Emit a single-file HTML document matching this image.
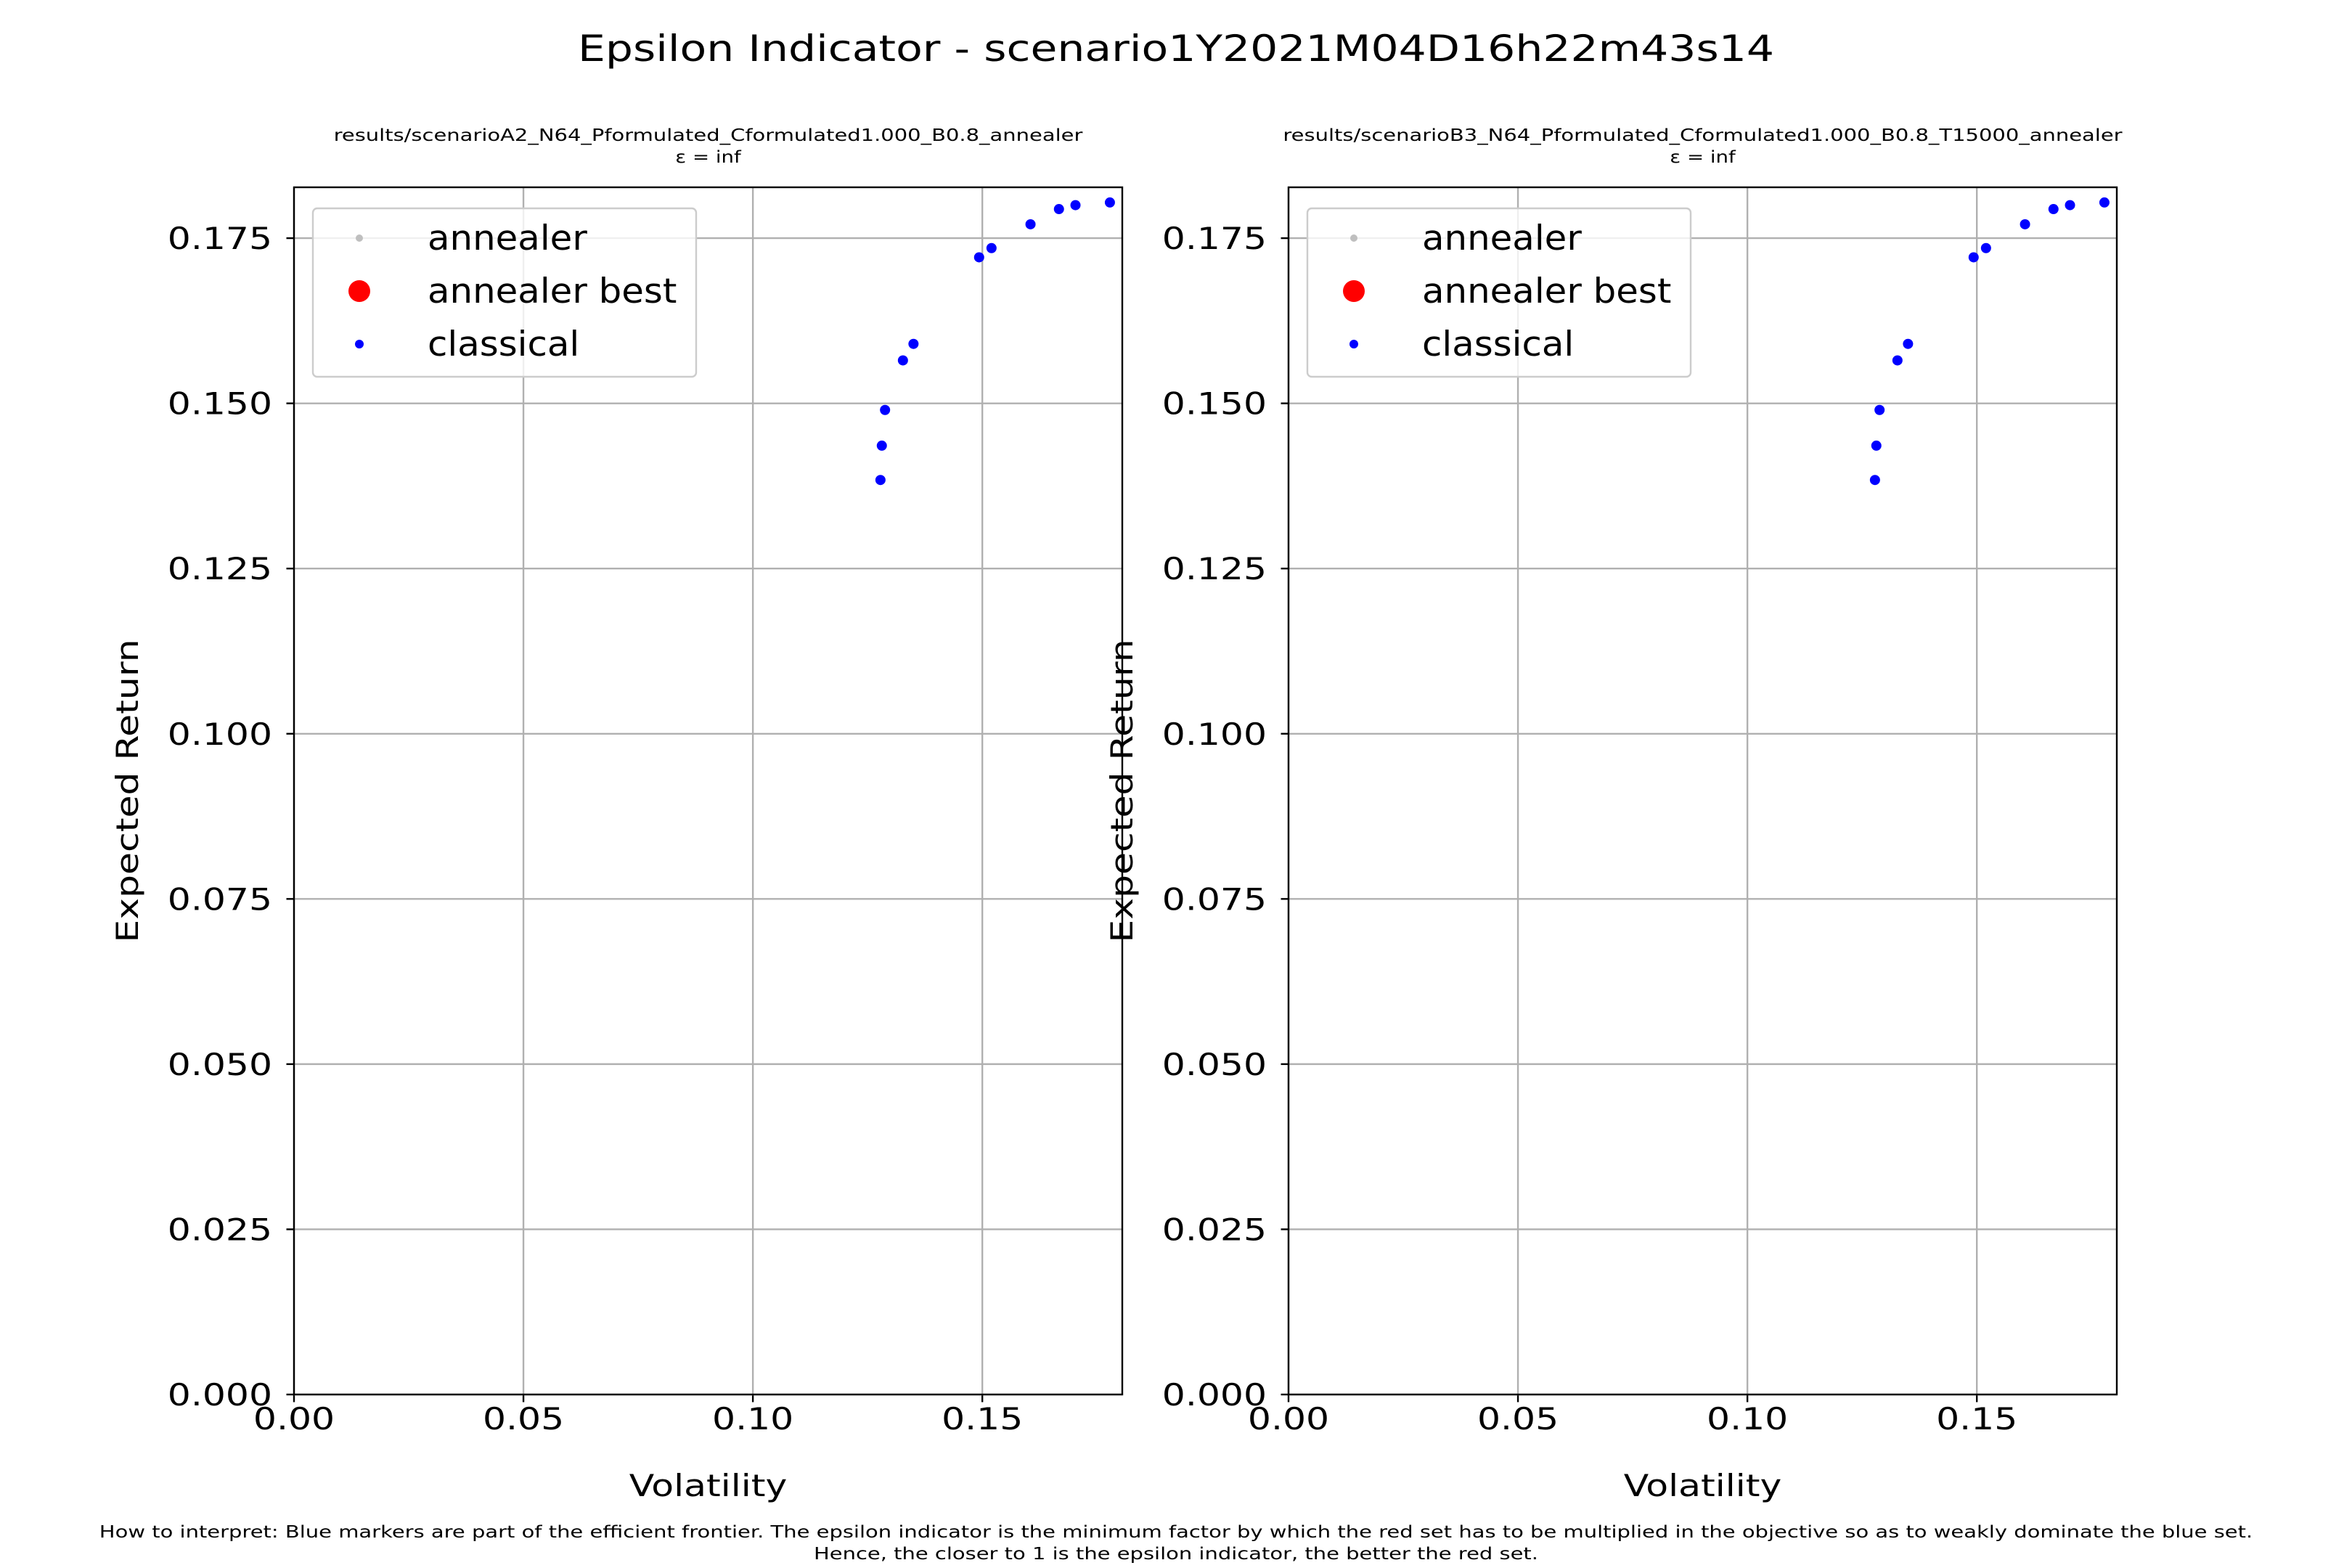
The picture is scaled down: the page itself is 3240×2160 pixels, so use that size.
<!DOCTYPE html>
<html><head><meta charset="utf-8"><style>
html,body{margin:0;padding:0;background:#fff}
svg{display:block;font-family:"DejaVu Sans","Liberation Sans",sans-serif}
</style></head><body>
<svg id="fig" width="3240" height="2160" viewBox="0 0 3240 2160" xmlns="http://www.w3.org/2000/svg">
<rect width="3240" height="2160" fill="#fff"/>
<text font-size="50" text-anchor="middle" transform="translate(1620,84) scale(1.2,1)">Epsilon Indicator - scenario1Y2021M04D16h22m43s14</text>
<text font-size="23" text-anchor="middle" transform="translate(1620,2118) scale(1.26,1)">How to interpret: Blue markers are part of the efficient frontier. The epsilon indicator is the minimum factor by which the red set has to be multiplied in the objective so as to weakly dominate the blue set.</text>
<text font-size="23" text-anchor="middle" transform="translate(1620,2148) scale(1.26,1)">Hence, the closer to 1 is the epsilon indicator, the better the red set.</text>
</svg>
<script>
const xTicks=[0,0.05,0.10,0.15];
const xTickLabels=["0.00","0.05","0.10","0.15"];
const yTicks=[0,0.025,0.05,0.075,0.1,0.125,0.15,0.175];
const yTickLabels=["0.000","0.025","0.050","0.075","0.100","0.125","0.150","0.175"];
const leftVol=[0.1278,0.1281,0.1288,0.1327,0.1350,0.1493,0.1520,0.1605,0.1667,0.1703,0.1778];
const leftRet=[0.1384,0.1436,0.1490,0.1565,0.1590,0.1721,0.1735,0.1771,0.1794,0.1800,0.1804];
const rightVol=[0.1278,0.1281,0.1288,0.1327,0.1350,0.1493,0.1520,0.1605,0.1667,0.1703,0.1778];
const rightRet=[0.1384,0.1436,0.1490,0.1565,0.1590,0.1721,0.1735,0.1771,0.1794,0.1800,0.1804];
const titles=["results/scenarioA2_N64_Pformulated_Cformulated1.000_B0.8_annealer","results/scenarioB3_N64_Pformulated_Cformulated1.000_B0.8_T15000_annealer"];
const NS="http://www.w3.org/2000/svg";
const svg=document.getElementById('fig');
function mk(tag,attrs,parent,text){const e=document.createElementNS(NS,tag);for(const k in attrs)e.setAttribute(k,attrs[k]);if(text!==undefined)e.textContent=text;(parent||svg).appendChild(e);return e;}
function txt(x,y,sx,size,anchor,parent,s){return mk('text',{'font-size':size,'text-anchor':anchor,transform:`translate(${x},${y}) scale(${sx},1)`},parent,s);}
function panel(idx,L,R,vol,ret){
  const T=258,B=1921,xmax=0.1805,ymax=0.1827;
  const sx=v=>L+v/xmax*(R-L);
  const sy=v=>B-v/ymax*(B-T);
  const g=mk('g',{});
  
  
  const cx=(L+R)/2;
  const t1=txt(cx,194,1.26,23,'middle',g,titles[idx]);
  
  
  const t2=txt(cx,224,1.2,23,'middle',g,'ε = inf');
  
  
  xTicks.forEach((v,i)=>{
    const x=sx(v);
    const gl=mk('line',{x1:x,x2:x,y1:T,y2:B,stroke:'#b0b0b0','stroke-width':2.4},g);
    
    
    mk('line',{x1:x,x2:x,y1:B,y2:B+10.5,stroke:'#000','stroke-width':2.4},g);
    const tl=txt(x,B+48,1.2,42,'middle',g,xTickLabels[i]);
    
    
  });
  yTicks.forEach((v,i)=>{
    const y=sy(v);
    const gl=mk('line',{x1:L,x2:R,y1:y,y2:y,stroke:'#b0b0b0','stroke-width':2.4},g);
    
    
    mk('line',{x1:L-10.5,x2:L,y1:y,y2:y,stroke:'#000','stroke-width':2.4},g);
    const tl=txt(L-30,y+15,1.2,42,'end',g,yTickLabels[i]);
    
    
  });
  vol.forEach((v,i)=>{
    const c=mk('circle',{cx:sx(v),cy:sy(ret[i]),r:7,fill:'#0000ff'},g);
    
    
  });
  const fr=mk('rect',{x:L,y:T,width:R-L,height:B-T,fill:'none',stroke:'#000','stroke-width':2.4},g);
  
  
  const xl=txt(cx,2061,1.2,42,'middle',g,'Volatility');
  
  
  const yl=mk('text',{x:0,y:0,'font-size':42,'text-anchor':'middle',transform:`translate(${L-215},${(T+B)/2}) rotate(-90) scale(1.2,1)`},g,'Expected Return');
  
  
  const lg=mk('g',{},g);
  
  
  const lx=L+26;
  mk('rect',{x:lx,y:287,width:528,height:232,rx:6,fill:'#fff','fill-opacity':0.8,stroke:'#cccccc','stroke-width':2.4},lg);
  const items=[['annealer','#bfbfbf',5],['annealer best','#ff0000',15],['classical','#0000ff',6]];
  items.forEach((it,i)=>{
    const y=328+i*73;
    const e=mk('g',{},lg);
    
    
    mk('circle',{cx:lx+64,cy:y,r:it[2],fill:it[1]},e);
    txt(lx+158,y+16,1.06,47,'start',e,it[0]);
  });
}
panel(0,405,1546,leftVol,leftRet);
panel(1,1775,2916,rightVol,rightRet);
</script>
</body></html>
